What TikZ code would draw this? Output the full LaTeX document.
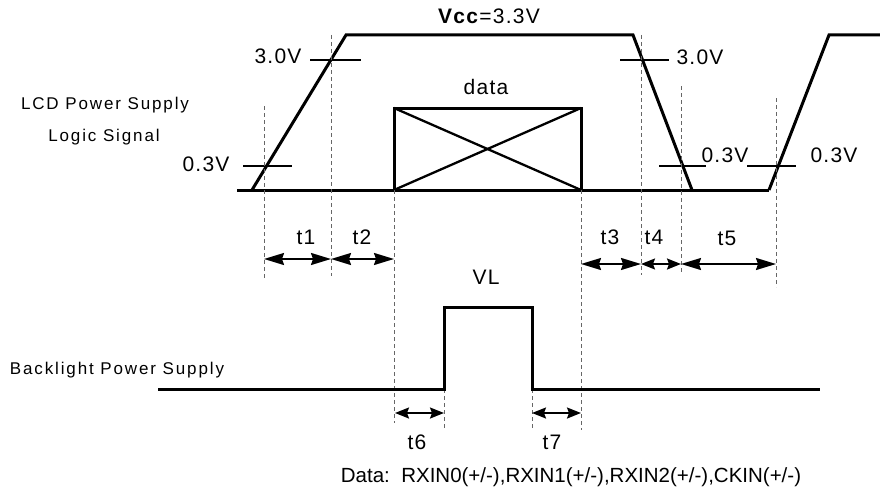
\documentclass[tikz,border=0pt]{standalone}
\usepackage{fontspec}
\setmainfont{Liberation Sans}
\newfontfamily\spacedfont[LetterSpace=11]{Liberation Sans}
\newfontfamily\labelfont[LetterSpace=6]{Liberation Sans}
\usetikzlibrary{arrows.meta}
\begin{document}
\begin{tikzpicture}[x=1pt,y=-1pt,
  sig/.style={line width=3pt, line join=miter},
  diag/.style={line width=2.3pt},
  guide/.style={line width=0.9pt, draw=black!60, dash pattern=on 4pt off 3pt},
  tickmark/.style={line width=2.3pt},
  span/.style={line width=1.8pt, {Stealth[length=20pt,width=12pt,inset=2pt]}-{Stealth[length=20pt,width=12pt,inset=2pt]}},
  shortspan/.style={line width=1.8pt, {Stealth[length=14pt,width=11pt,inset=2pt]}-{Stealth[length=14pt,width=11pt,inset=2pt]}},
  lbl/.style={font=\labelfont\fontsize{21}{25}\selectfont, inner sep=0pt},
  note/.style={font=\fontsize{20.5}{24}\selectfont, inner sep=0pt},
  side/.style={font=\spacedfont\fontsize{17}{20}\selectfont, inner sep=0pt}
]
\useasboundingbox (0,0) rectangle (880,495);

% LCD logic signal
\coordinate (b0) at (237,190);
\coordinate (r1a) at (252,190); \coordinate (r1b) at (346,35);
\coordinate (f1a) at (633,35);  \coordinate (f1b) at (692,190);
\coordinate (r2a) at (769,190); \coordinate (r2b) at (829,35);
\coordinate (topend) at (880,35);
\draw[sig] (b0) -- (r2a);
\draw[sig] (r1a) -- (r1b) -- (f1a) -- (f1b);
\draw[sig] (r2a) -- (r2b) -- (topend);

% data box
\coordinate (d1) at (394,108); \coordinate (d2) at (581,190);
\draw[sig] (d1) rectangle (d2);
\draw[diag] (d1) -- (d2);
\draw[diag] (d1 |- d2) -- (d2 |- d1);

% threshold ticks
\coordinate (ka1) at (310,60);  \coordinate (ka2) at (361,60);
\coordinate (kb1) at (620,60);  \coordinate (kb2) at (669,60);
\coordinate (kc1) at (243,166); \coordinate (kc2) at (292,166);
\coordinate (kd1) at (659,166); \coordinate (kd2) at (706,166);
\coordinate (ke1) at (747,166); \coordinate (ke2) at (796,166);
\draw[tickmark] (ka1) -- (ka2);
\draw[tickmark] (kb1) -- (kb2);
\draw[tickmark] (kc1) -- (kc2);
\draw[tickmark] (kd1) -- (kd2);
\draw[tickmark] (ke1) -- (ke2);

% guide lines
\coordinate (g1a) at (264,106); \coordinate (g1b) at (264,280);
\coordinate (g2a) at (331,35);  \coordinate (g2b) at (331,276);
\coordinate (g3a) at (394,190); \coordinate (g3b) at (394,423);
\coordinate (g4a) at (581,190); \coordinate (g4b) at (581,430);
\coordinate (g5a) at (641,35);  \coordinate (g5b) at (641,275);
\coordinate (g6a) at (681,86);  \coordinate (g6b) at (681,273);
\coordinate (g7a) at (776,98);  \coordinate (g7b) at (776,287);
\coordinate (g8a) at (444,389); \coordinate (g8b) at (444,428);
\coordinate (g9a) at (532,389); \coordinate (g9b) at (532,428);
\foreach \g in {1,...,9} {\draw[guide] (g\g a) -- (g\g b);}

% span arrows
\coordinate (s1) at (264,259); \coordinate (s2) at (331,259); \coordinate (s3) at (394,259);
\coordinate (s4) at (581,264); \coordinate (s5) at (641,264); \coordinate (s6) at (681,264); \coordinate (s7) at (776,264);
\coordinate (s8) at (395,413); \coordinate (s9) at (444,413);
\coordinate (s10) at (532,413); \coordinate (s11) at (581,413);
\draw[span] (s1) -- (s2);
\draw[span] (s2) -- (s3);
\draw[span] (s4) -- (s5);
\draw[shortspan] (s5) -- (s6);
\draw[span] (s6) -- (s7);
\draw[shortspan] (s8) -- (s9);
\draw[shortspan] (s10) -- (s11);

% backlight pulse
\coordinate (p0) at (158,389); \coordinate (p1) at (444,389); \coordinate (p2) at (444,307);
\coordinate (p3) at (532,307); \coordinate (p4) at (532,389); \coordinate (p5) at (820,389);
\draw[sig] (p0) -- (p1) -- (p2) -- (p3) -- (p4) -- (p5);

% labels
\node[lbl] (v30a) at (278,56) {3.0V};
\node[lbl] (v30b) at (700,57) {3.0V};
\node[lbl] (v03a) at (206,164) {0.3V};
\node[lbl] (v03b) at (725,155) {0.3V};
\node[lbl] (v03c) at (834,155) {0.3V};
\node[lbl] (vcc) at (489,16) {\textbf{Vcc}=3.3V};
\node[lbl] (data) at (486,87) {data};
\node[lbl] (t1) at (306,237) {t1};
\node[lbl] (t2) at (362,237) {t2};
\node[lbl] (t3) at (610,237) {t3};
\node[lbl] (t4) at (654,237) {t4};
\node[lbl] (t5) at (727,238) {t5};
\node[lbl] (vl) at (486,277) {VL};
\node[lbl] (t6) at (417,442) {t6};
\node[lbl] (t7) at (552,442) {t7};
\node[note] (datanote) at (571,477) {Data:\ \ RXIN0(+/-),RXIN1(+/-),RXIN2(+/-),CKIN(+/-)};
\node[side] (lcd) at (105,105) {LCD Power Supply};
\node[side] (logic) at (104,137) {Logic Signal};
\node[side] (back) at (117,370) {Backlight Power Supply};
\end{tikzpicture}
\end{document}
